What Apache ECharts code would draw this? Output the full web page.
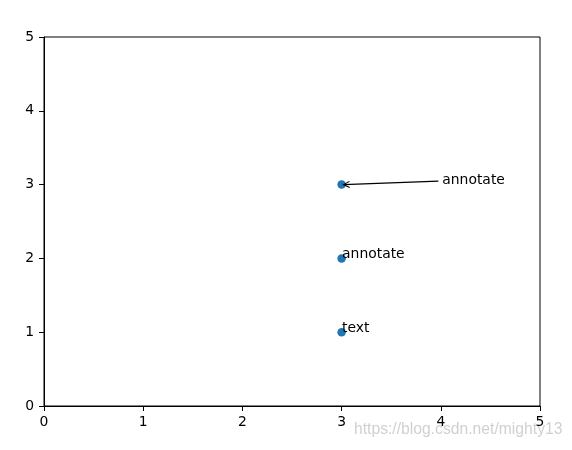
<!DOCTYPE html>
<html><head><meta charset="utf-8">
<script src="https://cdn.jsdelivr.net/npm/echarts@6/dist/echarts.min.js"></script>
<style>html,body{margin:0;padding:0;background:#fff}#c{width:572px;height:450px}</style>
</head><body><div id="c"></div>
<script>
const xTicks = [0, 1, 2, 3, 4, 5];
const yTicks = [0, 1, 2, 3, 4, 5];
const pointsX = [3, 3, 3];
const pointsY = [1, 2, 3];
const textLabels = ['text', 'annotate'];
const textX = [3, 3];
const textY = [1, 2];
const annText = 'annotate';
const annFrom = [4, 3];
const annTo = [3, 3];
const watermark = 'https://blog.csdn.net/mighty13';

const FONT = 'DejaVu Sans';
const chart = echarts.init(document.getElementById('c'), null, {renderer: 'canvas'});
const axisCommon = {
  min: 0, max: 5, interval: 1,
  axisLine: {show: true, onZero: false, lineStyle: {color: '#000', width: 1}},
  axisTick: {show: true, inside: false, length: 5, lineStyle: {color: '#000', width: 1}},
  axisLabel: {color: '#000', fontFamily: FONT, fontSize: 13.9, margin: 9,
    formatter: v => (xTicks.indexOf(v) >= 0 ? String(v) : '')},
  splitLine: {show: false}
};
chart.setOption({
  animation: false,
  backgroundColor: '#fff',
  grid: {left: 44, top: 37, width: 496, height: 369, show: true, borderColor: '#000', borderWidth: 1, backgroundColor: 'transparent'},
  xAxis: Object.assign({type: 'value', position: 'bottom'}, axisCommon),
  yAxis: Object.assign({type: 'value', position: 'left'}, axisCommon, {
    axisLabel: Object.assign({}, axisCommon.axisLabel, {margin: 10, formatter: v => (yTicks.indexOf(v) >= 0 ? String(v) : '')})
  }),
  graphic: [{
    type: 'text', left: 354, top: 422,
    style: {text: watermark, fill: 'rgba(200,200,200,0.85)', font: '15.7px "Liberation Sans", Arial, sans-serif'}
  }],
  series: [
    {
      type: 'scatter', symbol: 'circle', symbolSize: 8.5,
      itemStyle: {color: '#1f77b4', opacity: 1},
      data: pointsX.map((x, i) => [x, pointsY[i]]), z: 3
    },
    {
      type: 'custom', z: 4,
      data: textX.map((x, i) => [x, textY[i], i]),
      renderItem: function (params, api) {
        const p = api.coord([api.value(0), api.value(1)]);
        return {type: 'text', x: p[0] + 0.5, y: p[1] - 4,
          style: {text: textLabels[api.value(2)], fill: '#000', font: '13.9px "' + FONT + '"', align: 'left', verticalAlign: 'middle'}};
      }
    },
    {
      type: 'custom', z: 4,
      data: [[annFrom[0], annFrom[1], annTo[0], annTo[1]]],
      renderItem: function (params, api) {
        const a = api.coord([api.value(0), api.value(1)]);
        const b = api.coord([api.value(2), api.value(3)]);
        const s = [a[0] - 2.5, a[1] - 3.5];
        const e = [b[0] + 2, b[1]];
        const dx = e[0] - s[0], dy = e[1] - s[1];
        const L = Math.sqrt(dx * dx + dy * dy);
        const ux = dx / L, uy = dy / L;
        const hl = 6, hw = 3;
        const h1 = [e[0] - ux * hl - uy * hw, e[1] - uy * hl + ux * hw];
        const h2 = [e[0] - ux * hl + uy * hw, e[1] - uy * hl - ux * hw];
        return {type: 'group', children: [
          {type: 'line', shape: {x1: s[0], y1: s[1], x2: e[0], y2: e[1]}, style: {stroke: '#000', lineWidth: 1.1}},
          {type: 'polyline', shape: {points: [h1, e, h2]}, style: {stroke: '#000', lineWidth: 1.1, fill: null}},
          {type: 'text', x: a[0] + 1.5, y: a[1] - 4,
            style: {text: annText, fill: '#000', font: '13.9px "' + FONT + '"', align: 'left', verticalAlign: 'middle'}}
        ]};
      }
    }
  ]
});
</script></body></html>
